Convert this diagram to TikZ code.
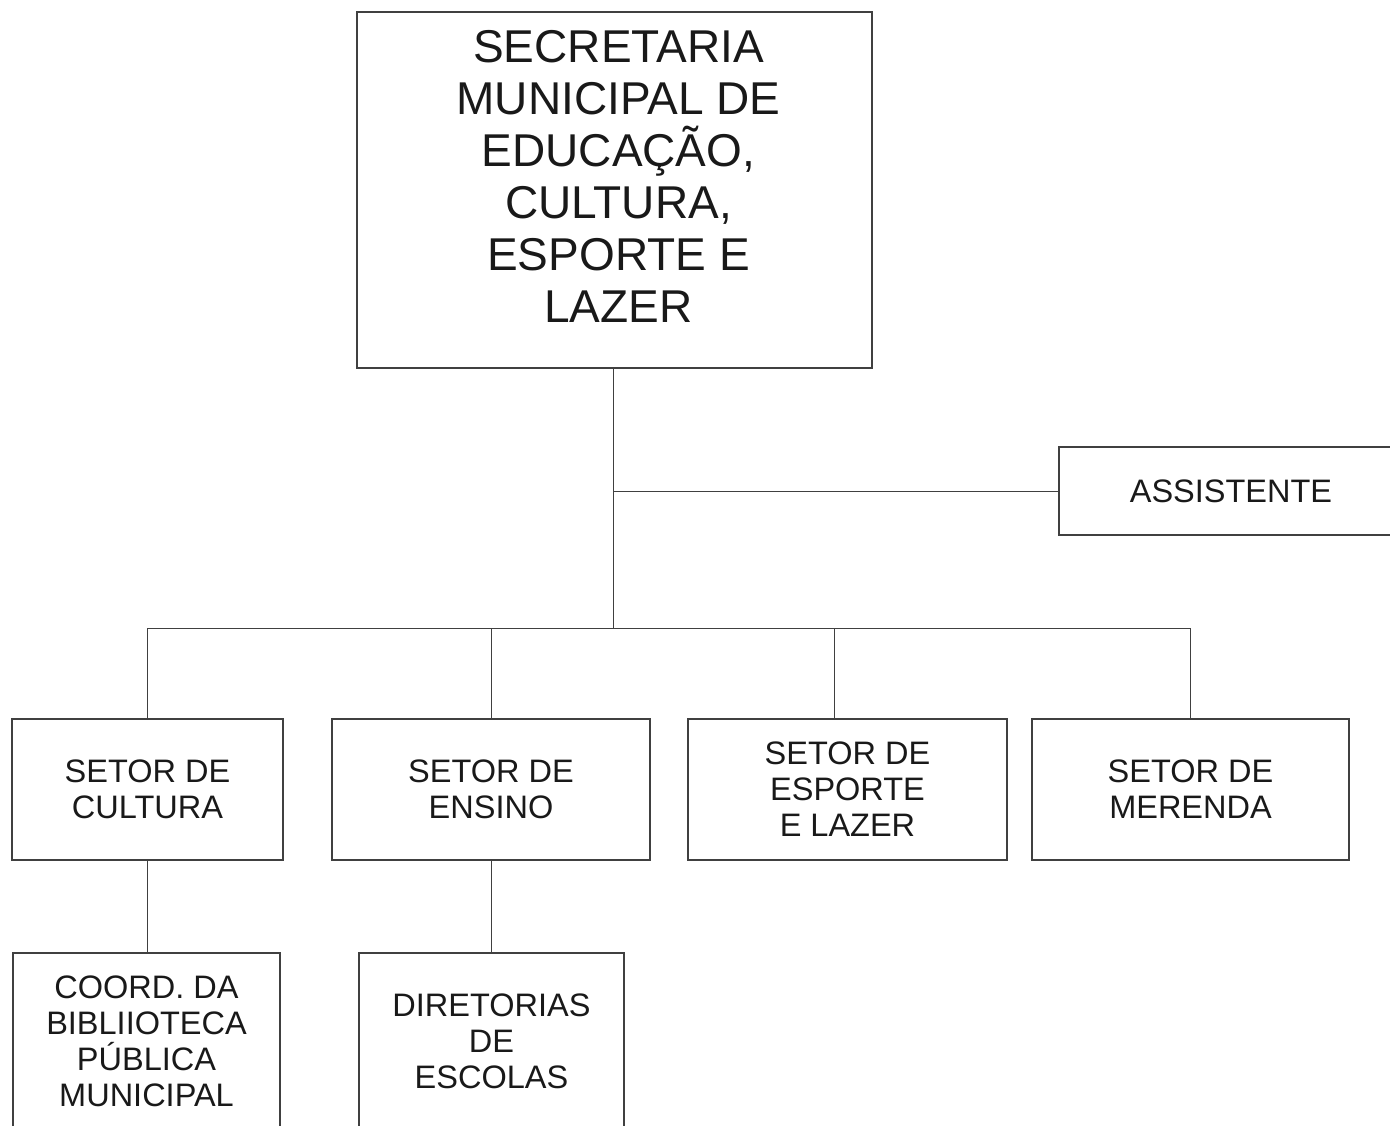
\documentclass[tikz,border=0pt]{standalone}
\usepackage{fontspec}
\setmainfont{Liberation Sans}
\usetikzlibrary{positioning}
\definecolor{linegray}{gray}{0.25}
\definecolor{textgray}{gray}{0.1}
\tikzset{
    orgbox/.style={draw=linegray, line width=1.3pt, inner sep=0pt, align=center,
        text=textgray, font=\fontsize{32.5}{36}\selectfont},
    orgline/.style={draw=linegray, line width=1pt}
}
\begin{document}
\begin{tikzpicture}[x=1pt, y=-1pt]
    \useasboundingbox (0,0) rectangle (1390,1126);
    \clip (0,0) rectangle (1390,1126);

    % Top box
    \node[orgbox, minimum width=515pt, minimum height=356pt] (sec) at (614.5,190) {};
    \node[align=center, text=textgray, font=\fontsize{46}{52}\selectfont, inner sep=0pt]
        (sectxt) at ([xshift=4pt, yshift=14pt]sec.center)
        {SECRETARIA\\MUNICIPAL DE\\EDUCAÇÃO,\\CULTURA,\\ESPORTE E\\LAZER};

    % Assistant
    \node[orgbox, minimum width=344pt, minimum height=88pt] (ass) at (1231,491) {ASSISTENTE};

    % Sectors
    \node[orgbox, minimum width=271pt, minimum height=141pt] (cul) at (147.5,789.5) {SETOR DE\\CULTURA};
    \node[orgbox, minimum width=318pt, minimum height=141pt] (ens) at (491,789.5) {SETOR DE\\ENSINO};
    \node[orgbox, minimum width=319pt, minimum height=141pt] (esp) at (847.5,789.5) {SETOR DE\\ESPORTE\\E LAZER};
    \node[orgbox, minimum width=317pt, minimum height=141pt] (mer) at (1190.5,789.5) {SETOR DE\\MERENDA};

    % Lower level
    \node[orgbox, minimum width=267pt, minimum height=176pt] (bib) at (146.5,1041) {COORD. DA\\BIBLIIOTECA\\PÚBLICA\\MUNICIPAL};
    \node[orgbox, minimum width=265pt, minimum height=176pt] (dir) at (491.5,1041) {DIRETORIAS\\DE\\ESCOLAS};

    % Connectors
    \coordinate (bus) at (613,628);
    \coordinate (assjoin) at (bus |- ass.west);
    \coordinate (espdrop) at (834,628);
    \draw[orgline] (sec.south -| bus) -- (bus);
    \draw[orgline] (assjoin) -- (ass.west);
    \draw[orgline] (cul.north |- bus) -- (mer.north |- bus);
    \foreach \n in {cul,ens,mer}
        \draw[orgline] (\n.north |- bus) -- (\n.north);
    \draw[orgline] (espdrop) -- (espdrop |- esp.north);
    \draw[orgline] (cul.south) -- (cul.south |- bib.north);
    \draw[orgline] (ens.south) -- (ens.south |- dir.north);
\end{tikzpicture}
\end{document}
